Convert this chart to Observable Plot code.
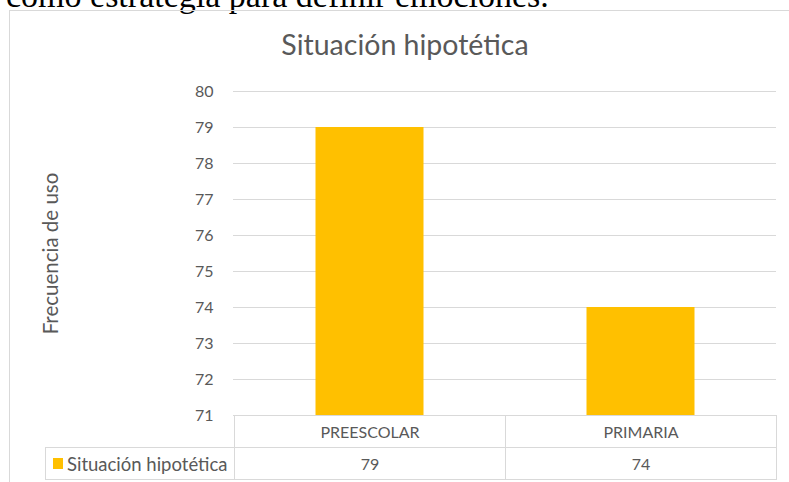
<!DOCTYPE html>
<html>
<head>
<meta charset="utf-8">
<script src="https://cdn.jsdelivr.net/npm/d3@7"></script>
<script src="https://cdn.jsdelivr.net/npm/@observablehq/plot@0.6"></script>
<style>
  html, body { margin: 0; padding: 0; background: #fff; }
  body { width: 789px; height: 482px; overflow: hidden; position: relative; font-family: Lato, "Open Sans", sans-serif; }
  #top { position: absolute; left: 6px; top: -21px; font-family: "Liberation Serif", "Times New Roman", serif; font-size: 34px; line-height: 34px; white-space: nowrap; color: #000; }
  #box { position: absolute; left: 9px; top: 10px; width: 800px; height: 500px; border: 1px solid #d9d9d9; box-sizing: border-box; }
  #title { position: absolute; left: 0; width: 810px; top: 30px; text-align: center; font-size: 28.5px; line-height: 28px; color: #595959; white-space: nowrap; }
  #chart { position: absolute; left: 0; top: 0; }
  #chart g[aria-label="y-axis label"] text { font-size: 20.5px; }
  .cell { position: absolute; box-sizing: border-box; border: 1px solid #d9d9d9; display: flex; align-items: center; justify-content: center; color: #595959; font-size: 16px; white-space: nowrap; }
  .cell.legend { justify-content: flex-start; padding-left: 7px; font-size: 18.5px; }
  .swatch { display: inline-block; width: 10px; height: 11px; margin-right: 4px; }
</style>
</head>
<body>
<div id="top">como estrategia para definir emociones.</div>
<div id="box"></div>
<div id="title"></div>
<div id="chart"></div>
<div id="table"></div>
<script>
const titleText = "Situación hipotética";
const seriesName = "Situación hipotética";
const yLabel = "Frecuencia de uso";
const categories = ["PREESCOLAR", "PRIMARIA"];
const values = [79, 74];
const yTicks = [71, 72, 73, 74, 75, 76, 77, 78, 79, 80];
const barColor = "#FFC000";

const yMin = d3.min(yTicks), yMax = d3.max(yTicks);
const data = categories.map((c, i) => ({category: c, value: values[i]}));

document.getElementById("title").textContent = titleText;

const chart = Plot.plot({
  width: 789,
  height: 482,
  marginTop: 91,
  marginBottom: 67,
  marginLeft: 233,
  marginRight: 13,
  style: {background: "transparent", color: "#595959", fontFamily: "Lato, 'Open Sans', sans-serif", fontSize: "16px", overflow: "visible"},
  x: {domain: categories, padding: 0, axis: null},
  y: {domain: [yMin, yMax]},
  marks: [
    Plot.gridY(yTicks, {stroke: "#d9d9d9", strokeOpacity: 1}),
    Plot.barY(data, {x: "category", y1: yMin, y2: "value", fill: barColor, insetLeft: 81.5, insetRight: 81.5}),
    Plot.axisY({ticks: yTicks, tickSize: 0, tickPadding: 20, fontSize: 16, label: yLabel, labelAnchor: "center", labelArrow: "none", labelOffset: 190})
  ]
});
document.getElementById("chart").appendChild(chart);

// data table aligned with the x band scale
const xs = chart.scale("x");
const ys = chart.scale("y");
const bw = xs.bandwidth;
const rowH = 32;
const top0 = ys.apply(yMin);
const table = document.getElementById("table");
function cell(left, top, width, html, cls) {
  const d = document.createElement("div");
  d.className = "cell" + (cls ? " " + cls : "");
  d.style.left = left + "px";
  d.style.top = top + "px";
  d.style.width = (width + 1) + "px";
  d.style.height = (rowH + 1) + "px";
  d.innerHTML = html;
  table.appendChild(d);
}
const x0 = xs.apply(categories[0]);
categories.forEach((c, i) => {
  cell(xs.apply(c), top0, bw, c);
  cell(xs.apply(c), top0 + rowH, bw, String(values[i]));
});
cell(45, top0 + rowH, x0 - 45, `<span class="swatch" style="background:${barColor}"></span>${seriesName}`, "legend");
</script>
</body>
</html>
